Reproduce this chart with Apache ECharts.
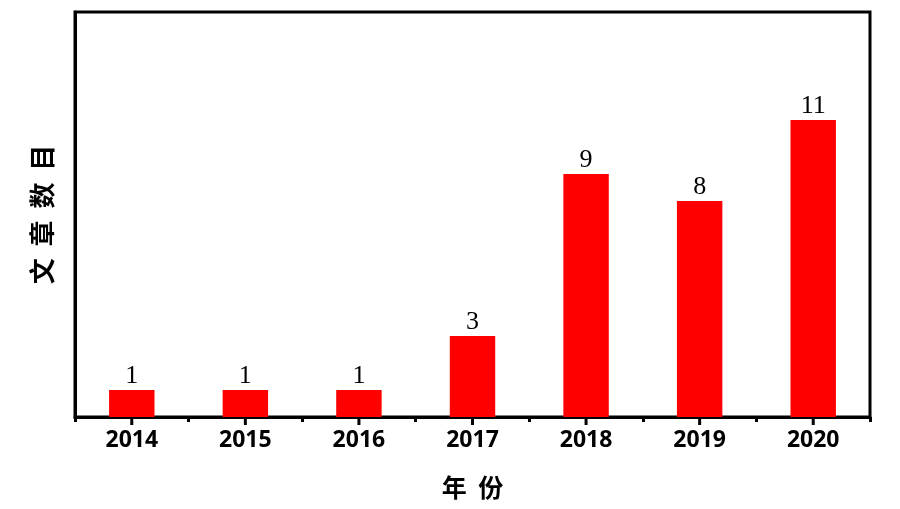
<!DOCTYPE html>
<html><head><meta charset="utf-8">
<script src="https://cdn.jsdelivr.net/npm/echarts@6/dist/echarts.min.js"></script>
<style>html,body{margin:0;padding:0;background:#fff}#c{width:900px;height:509px}</style>
</head><body><div id="c"></div>
<script>
const years = ['2014','2015','2016','2017','2018','2019','2020'];
const counts = [1,1,1,3,9,8,11];
const xName = '年  份';
const yName = '文  章  数  目';

const chart = echarts.init(document.getElementById('c'));
chart.setOption({
  animation:false,
  grid:{left:75,right:30,top:12,bottom:92,show:true,borderColor:'#000',borderWidth:3,backgroundColor:'transparent'},
  xAxis:{
    type:'category',data:years,
    axisLine:{show:true,onZero:false,lineStyle:{color:'#000',width:3}},
    axisTick:{show:true,length:5,lineStyle:{color:'#000',width:3}},
    axisLabel:{color:'#000',fontSize:23,fontWeight:'bold',fontFamily:'Noto Sans',margin:12},
    name:xName,nameLocation:'middle',nameGap:58,
    nameTextStyle:{color:'#000',fontSize:25,fontWeight:'bold',fontFamily:'Noto Sans CJK SC'}
  },
  yAxis:{
    type:'value',min:0,max:15,
    axisLine:{show:true,onZero:false,lineStyle:{color:'#000',width:3}},
    axisTick:{show:false},axisLabel:{show:false},splitLine:{show:false},
    name:yName,nameLocation:'middle',nameGap:20,nameRotate:90,
    nameTextStyle:{color:'#000',fontSize:26,fontWeight:'bold',fontFamily:'Noto Sans CJK SC'}
  },
  series:[{
    type:'bar',data:counts,barWidth:'40%',
    itemStyle:{color:'#ff0000'},
    label:{show:true,position:'top',color:'#000',fontSize:26,fontFamily:'Liberation Serif',distance:1}
  },{
    type:'custom',clip:false,z:10,silent:true,
    data:years.map(y => [y, 0]),
    renderItem:function(params, api){
      const p = api.coord([api.value(0), 0]);
      return {type:'line',shape:{x1:p[0],y1:p[1],x2:p[0],y2:p[1]+8},style:{stroke:'#000',lineWidth:3}};
    }
  }]
});
</script></body></html>
